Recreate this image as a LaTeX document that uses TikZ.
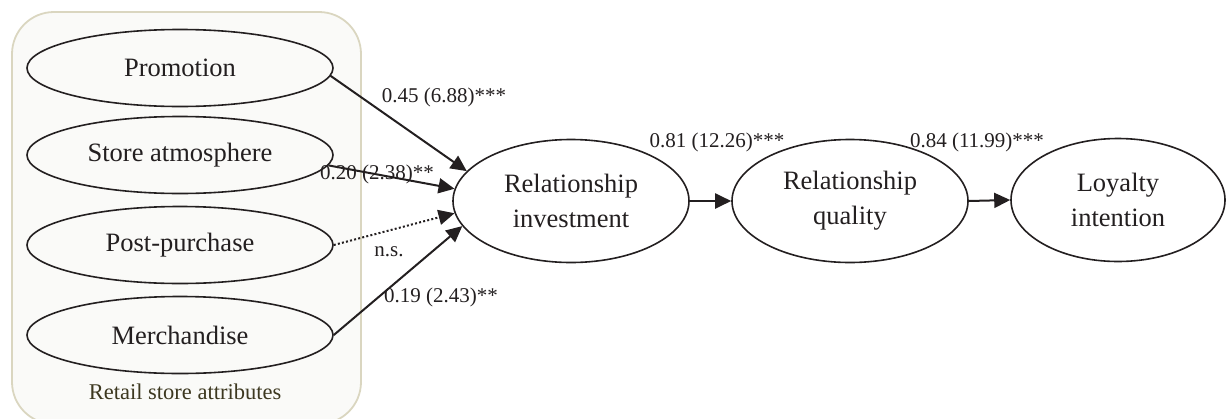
\documentclass[tikz,border=0pt]{standalone}
\usepackage{fontspec}
\setmainfont{Liberation Serif}
\usetikzlibrary{shapes.geometric,arrows.meta}
\definecolor{ink}{HTML}{231F20}
\definecolor{boxline}{HTML}{DAD6C0}
\definecolor{boxfill}{HTML}{FAFAF8}
\definecolor{boxtext}{HTML}{3D3820}
\tikzset{
  attr/.style={ellipse,draw=ink,line width=1.6pt,minimum width=306pt,minimum height=77pt,inner sep=0pt,font=\fontsize{26.5}{31}\selectfont,text=ink},
  construct/.style={ellipse,draw=ink,line width=1.6pt,minimum width=236pt,minimum height=123pt,inner sep=0pt,align=center,font=\fontsize{26.5}{35}\selectfont,text=ink},
  arr/.style={draw=ink,line width=2pt,-{Triangle[length=16pt,width=15pt]}},
  ns/.style={draw=ink,line width=2pt,dash pattern=on 2pt off 2.2pt,-{Triangle[length=16pt,width=15pt]}},
  lbl/.style={font=\fontsize{21}{24}\selectfont,text=ink,inner sep=0pt},
}
\begin{document}
\begin{tikzpicture}[x=1pt,y=-1pt]
\useasboundingbox (0,0) rectangle (1226,418);
\draw[boxline,fill=boxfill,line width=1.8pt,rounded corners=42pt] (12,12) rectangle (361,424);
\node[font=\fontsize{22.5}{26}\selectfont,text=boxtext] (grp) at (185,392) {Retail store attributes};
\node[attr] (promo) at (180,68) {Promotion};
\node[attr] (store) at (180,155) {Store atmosphere};
\node[attr] (post) at (180,245) {Post-purchase};
\node[attr] (merch) at (180,335) {Merchandise};
\node[construct] (ri) at (571,201) {Relationship\\investment};
\node[construct] (rq) at (850,201) {Relationship\\quality};
\node[construct,minimum width=214pt] (li) at (1118,200) {Loyalty\\intention};
\draw[arr] (promo.-3) -- (ri.164);
\draw[arr] (store.-4) -- (ri.174);
\draw[ns] (post.east) -- (ri.186);
\draw[arr] (merch.east) -- (ri.193);
\draw[arr] (ri.east) -- (rq.west);
\draw[arr] (rq.east) -- (li.west);
\node[lbl] (l1) at (444,97) {0.45 (6.88)***};
\node[lbl] (l2) at (377,174) {0.20 (2.38)**};
\node[lbl] (l3) at (389,252) {n.s.};
\node[lbl] (l4) at (441,297) {0.19 (2.43)**};
\node[lbl] (l5) at (717,142) {0.81 (12.26)***};
\node[lbl] (l6) at (977,142) {0.84 (11.99)***};
\end{tikzpicture}
\end{document}
